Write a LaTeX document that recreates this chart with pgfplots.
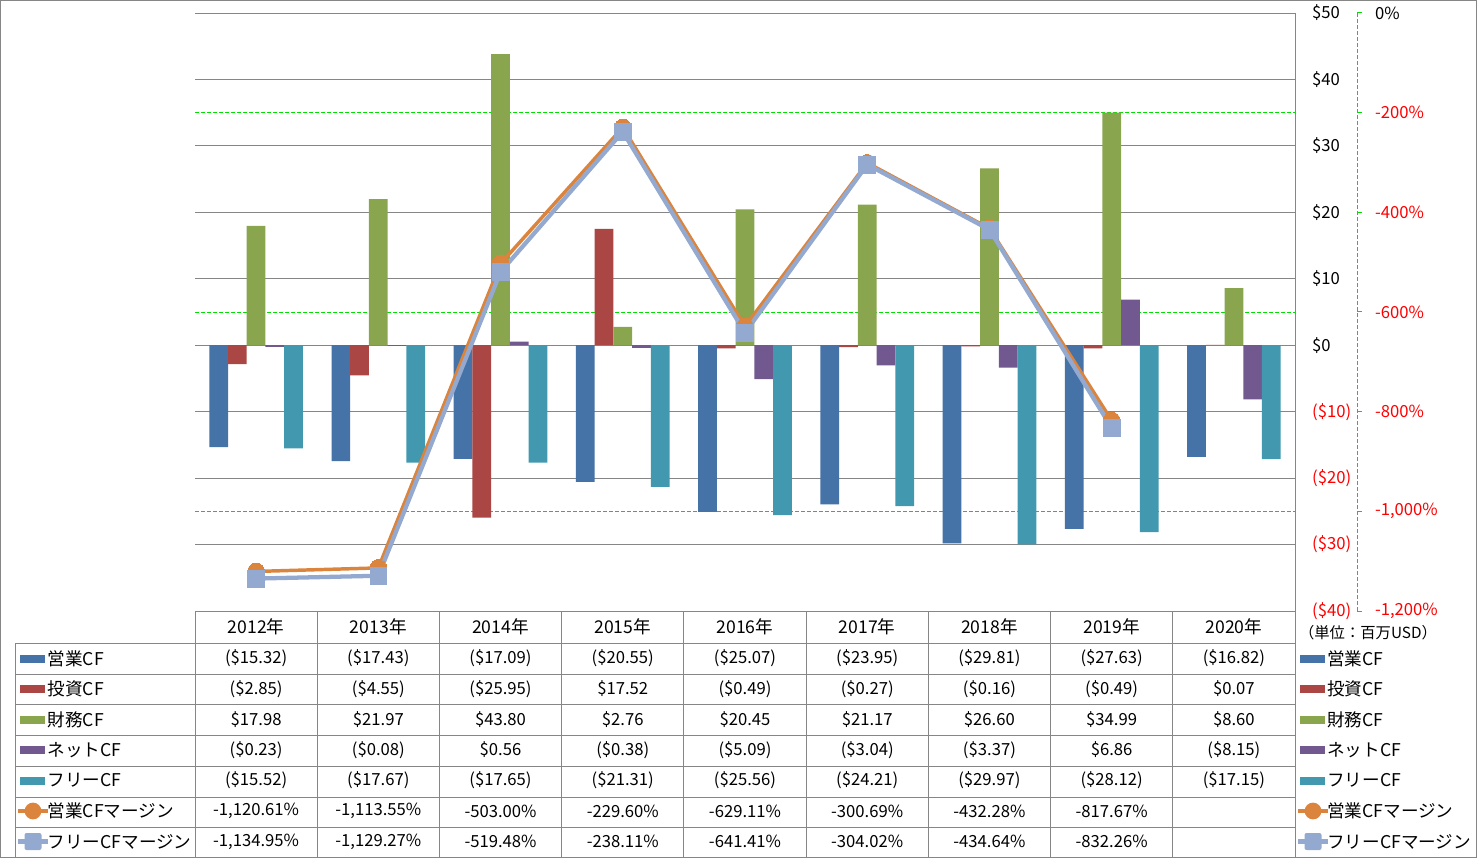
\documentclass[border=0pt]{standalone}
\usepackage{pgfplots}
\pgfplotsset{compat=1.18}
\usepackage{fontspec}
\setmainfont{Noto Sans CJK JP}
\definecolor{cBlue}{HTML}{4572A7}
\definecolor{cRed}{HTML}{AA4643}
\definecolor{cGreen}{HTML}{89A54E}
\definecolor{cPurple}{HTML}{71588F}
\definecolor{cTeal}{HTML}{4198AF}
\definecolor{cOrange}{HTML}{DB843D}
\definecolor{cLBlue}{HTML}{93A9CF}
\definecolor{cGrid}{HTML}{868686}
\definecolor{cLime}{HTML}{00E000}
\definecolor{cNeg}{HTML}{FF0000}
\newcommand{\fs}{\fontsize{12.5pt}{15pt}\selectfont}
\newcommand{\fj}{\fontsize{13.2pt}{16pt}\selectfont}
\begin{document}
\begin{tikzpicture}[font=\fs]
\useasboundingbox (0,0) rectangle (1107.75pt,643.5pt);
% ---------------- bars (primary axis) ----------------
\begin{axis}[
  at={(146.25pt,185.25pt)}, anchor=south west,
  width=825pt, height=448.5pt, scale only axis,
  xmin=-0.5, xmax=8.5, ymin=-40, ymax=50,
  axis line style={draw=none}, major tick length=0pt,
  xtick=\empty,
  ytick={-40,-30,-20,-10,0,10,20,30,40,50},
  yticklabels={{\textcolor{cNeg}{(\$40)}},{\textcolor{cNeg}{(\$30)}},{\textcolor{cNeg}{(\$20)}},{\textcolor{cNeg}{(\$10)}},{\$0},{\$10},{\$20},{\$30},{\$40},{\$50}},
  yticklabel pos=right,
  yticklabel style={anchor=west, xshift=9.3pt, font=\fs},
  ymajorgrids, major grid style={draw=cGrid, line width=0.75pt},
  extra y ticks={35,5,-25},
  extra y tick labels={},
  extra y tick style={major grid style={draw=cLime, line width=0.75pt, dash pattern=on 3pt off 1.5pt}},
  ybar=0pt, bar width=14.05pt,
]
\addplot[fill=cBlue, draw=none] coordinates {(0,-15.32) (1,-17.43) (2,-17.09) (3,-20.55) (4,-25.07) (5,-23.95) (6,-29.81) (7,-27.63) (8,-16.82)};
\addplot[fill=cRed, draw=none] coordinates {(0,-2.85) (1,-4.55) (2,-25.95) (3,17.52) (4,-0.49) (5,-0.27) (6,-0.16) (7,-0.49) (8,0.07)};
\addplot[fill=cGreen, draw=none] coordinates {(0,17.98) (1,21.97) (2,43.80) (3,2.76) (4,20.45) (5,21.17) (6,26.60) (7,34.99) (8,8.60)};
\addplot[fill=cPurple, draw=none] coordinates {(0,-0.23) (1,-0.08) (2,0.56) (3,-0.38) (4,-5.09) (5,-3.04) (6,-3.37) (7,6.86) (8,-8.15)};
\addplot[fill=cTeal, draw=none] coordinates {(0,-15.52) (1,-17.67) (2,-17.65) (3,-21.31) (4,-25.56) (5,-24.21) (6,-29.97) (7,-28.12) (8,-17.15)};
\end{axis}
% ---------------- lines (secondary axis) ----------------
\begin{axis}[
  at={(146.25pt,185.25pt)}, anchor=south west,
  width=825pt, height=448.5pt, scale only axis,
  xmin=-0.5, xmax=8.5, ymin=-1200, ymax=0,
  axis line style={draw=none}, major tick length=0pt,
  xtick=\empty,
  ytick={-1200,-1000,-800,-600,-400,-200,0},
  yticklabels={{\textcolor{cNeg}{-1,200\%}},{\textcolor{cNeg}{-1,000\%}},{\textcolor{cNeg}{-800\%}},{\textcolor{cNeg}{-600\%}},{\textcolor{cNeg}{-400\%}},{\textcolor{cNeg}{-200\%}},{0\%}},
  yticklabel pos=right,
  yticklabel style={anchor=west, xshift=56.5pt, font=\fs},
  clip=false,
]
\addplot[color=cOrange, line width=2.6pt, mark=*, mark size=6.3pt, mark options={fill=cOrange, draw=cOrange, line width=0pt}] coordinates {(0,-1120.61) (1,-1113.55) (2,-503.00) (3,-229.60) (4,-629.11) (5,-300.69) (6,-432.28) (7,-817.67)};
\addplot[color=cLBlue, line width=3.2pt, mark=square*, mark size=6.3pt, mark options={fill=cLBlue, draw=cLBlue, line width=0.5pt, rounded corners=1.5pt}] coordinates {(0,-1134.95) (1,-1129.27) (2,-519.48) (3,-238.11) (4,-641.41) (5,-304.02) (6,-434.64) (7,-832.26)};
\end{axis}
% ---------------- frame, axis lines and data table (pixel coordinates) ----------------
\begin{scope}[x=0.75pt, y=-0.75pt, yshift=643.5pt]
\draw[cGrid, line width=0.75pt] (0.5,0.5) rectangle (1476.5,857.5);
% secondary axis line and ticks
\draw[cLime, line width=0.75pt, dash pattern=on 3pt off 1.5pt] (1357,13) -- (1357,611);
\foreach \yy in {13,112.7,212.3,312,411.7,511.3,611} \draw[cLime, line width=0.75pt] (1357,\yy) -- (1362,\yy);
% primary axis line
\draw[cGrid, line width=0.75pt] (1295,13) -- (1295,857);
% table grid
\draw[cGrid, line width=0.75pt] (195,611) -- (1295,611);
\foreach \yy in {643,674,704.5,735,766,797,827,857} \draw[cGrid, line width=0.75pt] (15,\yy) -- (1295,\yy);
\draw[cGrid, line width=0.75pt] (15,643) -- (15,857);
\foreach \xx in {195,317.2,439.4,561.7,683.9,806.1,928.3,1050.6,1172.8} \draw[cGrid, line width=0.75pt] (\xx,611) -- (\xx,857);
% header
\foreach [count=\i from 0] \s in {2012年,2013年,2014年,2015年,2016年,2017年,2018年,2019年,2020年}
  \node[font=\fj] at ({256.1+122.22*\i},627) {\s};
\foreach [count=\i from 0] \s in {{(\$15.32)},{(\$17.43)},{(\$17.09)},{(\$20.55)},{(\$25.07)},{(\$23.95)},{(\$29.81)},{(\$27.63)},{(\$16.82)}}
  \node at ({256.1+122.22*\i},658.5) {\s};
\foreach [count=\i from 0] \s in {{(\$2.85)},{(\$4.55)},{(\$25.95)},{\$17.52},{(\$0.49)},{(\$0.27)},{(\$0.16)},{(\$0.49)},{\$0.07}}
  \node at ({256.1+122.22*\i},689) {\s};
\foreach [count=\i from 0] \s in {{\$17.98},{\$21.97},{\$43.80},{\$2.76},{\$20.45},{\$21.17},{\$26.60},{\$34.99},{\$8.60}}
  \node at ({256.1+122.22*\i},719.5) {\s};
\foreach [count=\i from 0] \s in {{(\$0.23)},{(\$0.08)},{\$0.56},{(\$0.38)},{(\$5.09)},{(\$3.04)},{(\$3.37)},{\$6.86},{(\$8.15)}}
  \node at ({256.1+122.22*\i},750) {\s};
\foreach [count=\i from 0] \s in {{(\$15.52)},{(\$17.67)},{(\$17.65)},{(\$21.31)},{(\$25.56)},{(\$24.21)},{(\$29.97)},{(\$28.12)},{(\$17.15)}}
  \node at ({256.1+122.22*\i},780.5) {\s};
\foreach [count=\i from 0] \s in {{-1,120.61\%},{-1,113.55\%},{-503.00\%},{-229.60\%},{-629.11\%},{-300.69\%},{-432.28\%},{-817.67\%}}
  \node at ({256.1+122.22*\i},811) {\s};
\foreach [count=\i from 0] \s in {{-1,134.95\%},{-1,129.27\%},{-519.48\%},{-238.11\%},{-641.41\%},{-304.02\%},{-434.64\%},{-832.26\%}}
  \node at ({256.1+122.22*\i},841.5) {\s};
% legend keys (left table and right legend)
\foreach \kx/\tx in {20/47.5, 1300/1327} {
  \fill[cBlue]   (\kx,654.5) rectangle ++(25,8);
  \fill[cRed]    (\kx,685) rectangle ++(25,8);
  \fill[cGreen]  (\kx,715.5) rectangle ++(25,8);
  \fill[cPurple] (\kx,746) rectangle ++(25,8);
  \fill[cTeal]   (\kx,776.5) rectangle ++(25,8);
  \draw[cOrange, line width=2.6pt] ({\kx-2},811) -- ({\kx+28},811);
  \fill[cOrange] ({\kx+13},811) circle (6.3pt);
  \draw[cLBlue, line width=3.2pt] ({\kx-2},841.5) -- ({\kx+28},841.5);
  \fill[cLBlue, rounded corners=1.5pt] ({\kx+4.5},833) rectangle ({\kx+21.5},850);
  \node[anchor=west, inner sep=0pt, font=\fj] at (\tx,658.5) {営業CF};
  \node[anchor=west, inner sep=0pt, font=\fj] at (\tx,689) {投資CF};
  \node[anchor=west, inner sep=0pt, font=\fj] at (\tx,719.5) {財務CF};
  \node[anchor=west, inner sep=0pt, font=\fj] at (\tx,750) {ネットCF};
  \node[anchor=west, inner sep=0pt, font=\fj] at (\tx,780.5) {フリーCF};
  \node[anchor=west, inner sep=0pt, font=\fj] at (\tx,811) {営業CFマージン};
  \node[anchor=west, inner sep=0pt, font=\fj] at (\tx,841.5) {フリーCFマージン};
}
\node[font=\fontsize{11.5pt}{13pt}\selectfont] at (1368,633) {（単位：百万USD）};
\end{scope}
\end{tikzpicture}
\end{document}
